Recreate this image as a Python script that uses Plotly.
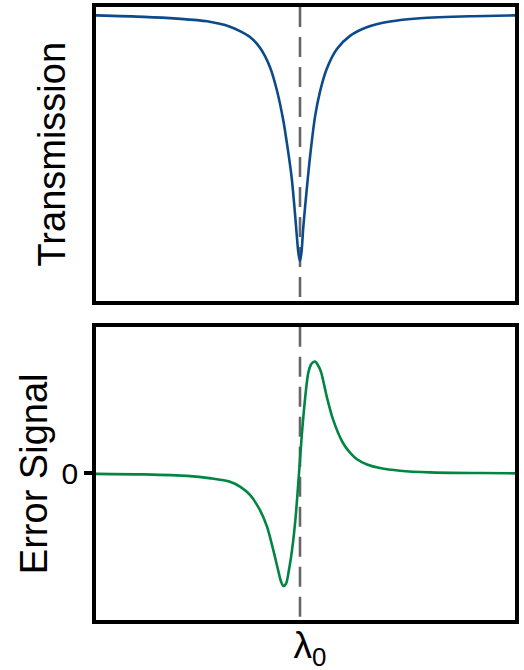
import plotly.graph_objects as go
from plotly.subplots import make_subplots

# Detuning relative to the resonance (arbitrary units, 0 = lambda_0)
x_trans = [-206, -156, -123, -93, -70, -60, -50, -40, -30, -23.3, -16.7, -11.7, -8.3, -5,
           -3.3, -1.5, 0, 1.5, 3.3, 6.7, 10, 15, 20, 26.7, 36.7, 50, 66.7, 90, 120, 170, 217]
transmission = [0.966, 0.961, 0.955, 0.946, 0.928, 0.913, 0.893, 0.857, 0.792, 0.717, 0.613,
                0.505, 0.42, 0.30, 0.23, 0.165, 0.141, 0.17, 0.255, 0.38, 0.49, 0.625,
                0.71, 0.786, 0.852, 0.897, 0.926, 0.945, 0.956, 0.963, 0.966]

x_err = [-206, -156, -113, -89, -70, -60, -50, -40, -33, -27, -22, -19, -16.7, -14, -11, -8,
         -4.3, -1, 1.7, 5, 8.3, 11, 13, 15, 18, 21, 26.7, 33, 43, 50, 57, 67, 80, 100, 130, 180, 217]
error_signal = [-0.003, -0.007, -0.017, -0.034, -0.057, -0.090, -0.146, -0.248, -0.36, -0.51,
                -0.65, -0.73, -0.76, -0.745, -0.65, -0.52, -0.29, 0.0, 0.25, 0.50, 0.68, 0.735,
                0.75, 0.755, 0.73, 0.685, 0.52, 0.365, 0.205, 0.14, 0.095, 0.06, 0.036, 0.018,
                0.007, 0.002, 0.0]

lambda0 = 0
ytick_vals = [0]
ytick_text = ["0"]
xtick_text = ["λ<sub>0</sub>"]

FONT = "Liberation Sans, Arial, sans-serif"
BLUE = "#0b4a8b"
GREEN = "#008542"

fig = make_subplots(rows=2, cols=1, shared_xaxes=False)

fig.add_trace(go.Scatter(x=x_trans, y=transmission, mode="lines",
                         line=dict(color=BLUE, width=2.6, shape="spline", smoothing=0.8),
                         showlegend=False), row=1, col=1)
fig.add_trace(go.Scatter(x=x_err, y=error_signal, mode="lines",
                         line=dict(color=GREEN, width=2.6, shape="spline", smoothing=0.8),
                         showlegend=False), row=2, col=1)

for xr, yref in [("x", "y domain"), ("x2", "y2 domain")]:
    fig.add_shape(type="line", xref=xr, yref=yref, x0=lambda0, x1=lambda0, y0=1, y1=0,
                  line=dict(color="#666666", width=2.6, dash="20px,10px"), layer="below")

axis_common = dict(showgrid=False, zeroline=False, showline=True, linecolor="black",
                   linewidth=3.5, mirror=True, automargin=False)

fig.update_xaxes(range=[-204, 215], showticklabels=False, ticks="", domain=[0, 1], **axis_common)
fig.update_xaxes(row=2, col=1, showticklabels=True, tickvals=[lambda0], ticktext=xtick_text,
                 tickfont=dict(family=FONT, size=37, color="black"), ticklabelshift=10,
                 ticklabelstandoff=-10)
fig.update_yaxes(row=1, col=1, range=[0.0075, 0.994], showticklabels=False, ticks="",
                 domain=[0.5208, 1], **axis_common)
fig.update_yaxes(row=2, col=1, range=[-0.99, 0.99], tickvals=ytick_vals, ticktext=ytick_text,
                 ticks="outside", ticklen=8, tickwidth=3.5, tickcolor="black",
                 tickfont=dict(family=FONT, size=30, color="black"),
                 domain=[0, 0.4784], **axis_common)

fig.add_annotation(text="Transmission", xref="paper", yref="paper", x=-0.106, y=0.7604,
                   xanchor="center", yanchor="middle", textangle=-90, showarrow=False,
                   font=dict(family=FONT, size=38, color="black"))
fig.add_annotation(text="Error Signal", xref="paper", yref="paper", x=-0.1461, y=0.2392,
                   xanchor="center", yanchor="middle", textangle=-90, showarrow=False,
                   font=dict(family=FONT, size=38, color="black"))

fig.update_layout(width=524, height=670, margin=dict(l=96, r=9, t=7, b=50, autoexpand=False),
                  plot_bgcolor="white", paper_bgcolor="white")

fig.write_html("out.html")
